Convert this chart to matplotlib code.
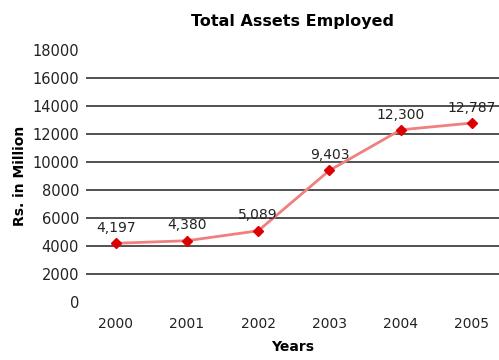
import matplotlib.pyplot as plt
import numpy as np

years = ['2000', '2001', '2002', '2003', '2004', '2005']
assets = [4197, 4380, 5089, 9403, 12300, 12787]
value_labels = ['4,197', '4,380', '5,089', '9,403', '12,300', '12,787']
yticks = [0, 2000, 4000, 6000, 8000, 10000, 12000, 14000, 16000, 18000]

fig = plt.figure(figsize=(4.99, 3.6), dpi=100)
ax = fig.add_axes([0.172, 0.161, 0.828, 0.700])

x = np.arange(len(years))

# horizontal rules only between the end ticks
for t in yticks[1:-1]:
    ax.axhline(t, color='#333333', lw=1.2, zorder=1)

ax.plot(x, assets, color='#f08080', lw=2, zorder=2)
ax.plot(x, assets, ls='none', marker='D', ms=5.5, color='#dd0000', zorder=3)

for xi, yi, lab in zip(x, assets, value_labels):
    ax.annotate(lab, (xi, yi), xytext=(0, 6), textcoords='offset points',
                ha='center', va='bottom', fontsize=10, color='#222222')

ax.set_xlim(-0.42, 5.38)
ax.set_ylim(0, 18000)
ax.set_xticks(x)
ax.set_xticklabels(years)
ax.set_yticks(yticks)
ax.tick_params(length=0, labelsize=10, colors='#222222')
ax.tick_params(axis='y', labelsize=10.5, pad=5)
ax.tick_params(axis='x', pad=11)
for s in ax.spines.values():
    s.set_visible(False)

ax.set_title('Total Assets Employed', fontsize=11.5, fontweight='bold', pad=17)
ax.set_xlabel('Years', fontsize=10, fontweight='bold', labelpad=6)
ax.set_ylabel('Rs. in Million', fontsize=10, fontweight='bold', labelpad=4)

fig.savefig('out.png', dpi=100)
